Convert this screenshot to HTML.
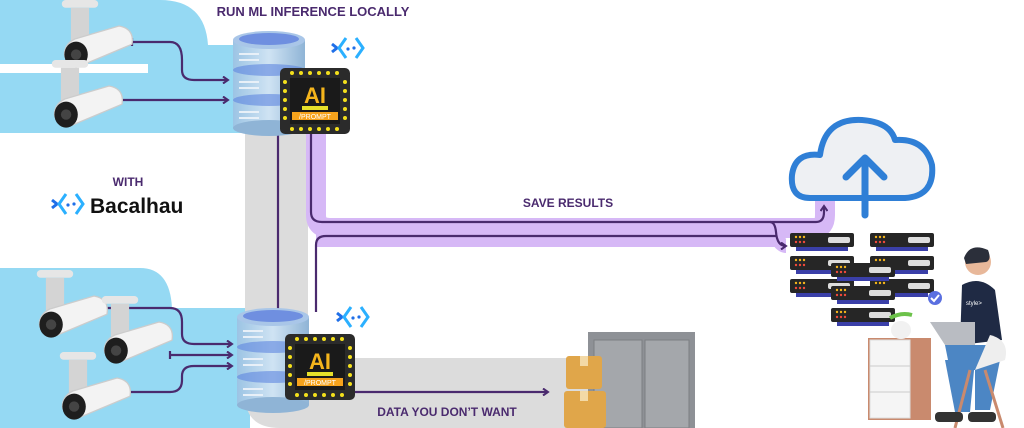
<!DOCTYPE html>
<html><head><meta charset="utf-8"><style>
html,body{margin:0;padding:0;background:#fff;}
svg{display:block;}
text{font-family:"Liberation Sans",sans-serif;}
</style></head><body>
<svg width="1024" height="428" viewBox="0 0 1024 428" xmlns="http://www.w3.org/2000/svg">
<defs>
<linearGradient id="cyl" x1="0" x2="1"><stop offset="0" stop-color="#9cc4e4"/><stop offset="0.5" stop-color="#cfe3f3"/><stop offset="1" stop-color="#8fb4d6"/></linearGradient>
<marker id="ar" markerWidth="8" markerHeight="8" refX="6" refY="4" orient="auto" markerUnits="userSpaceOnUse"><path d="M1,0.5 L6,4 L1,7.5" fill="none" stroke="#4a2a6e" stroke-width="2"/></marker>
<g id="cam">
 <rect x="-14" y="0" width="28" height="6" rx="3" fill="#e6e6e6"/>
 <rect x="-7" y="6" width="14" height="30" fill="#d4d4d4"/>
 <path d="M-4,30 L30,20 Q42,22 40,34 L2,50 Q-10,52 -12,42 Q-12,34 -4,30Z" fill="#f3f3f3" stroke="#ccc"/>
 <ellipse cx="-3" cy="42" rx="9" ry="10" fill="#1e1e1e"/>
 <circle cx="-3" cy="42" r="4" fill="#444"/>
</g>
<g id="srv">
 <rect x="0" y="10" width="72" height="88" fill="url(#cyl)"/>
 <ellipse cx="36" cy="98" rx="36" ry="8" fill="#8fb4d6"/>
 <ellipse cx="36" cy="40" rx="36" ry="6" fill="#5d86e0" opacity=".6"/>
 <ellipse cx="36" cy="70" rx="36" ry="6" fill="#5d86e0" opacity=".6"/>
 <ellipse cx="36" cy="10" rx="36" ry="9" fill="#a9c6e8"/>
 <ellipse cx="36" cy="9" rx="30" ry="6" fill="#6f8fe0"/>
 <g stroke="#e8f0f8" stroke-width="2"><line x1="6" y1="24" x2="26" y2="24"/><line x1="6" y1="30" x2="26" y2="30"/><line x1="6" y1="52" x2="26" y2="52"/><line x1="6" y1="58" x2="26" y2="58"/><line x1="6" y1="82" x2="26" y2="82"/><line x1="6" y1="88" x2="26" y2="88"/></g>
</g>
<g id="chip">
 <rect x="0" y="0" width="70" height="66" rx="5" fill="#2b2b2b"/>
 <g fill="#f4e01c"><circle cx="12" cy="5" r="2"/><circle cx="21" cy="5" r="2"/><circle cx="30" cy="5" r="2"/><circle cx="39" cy="5" r="2"/><circle cx="48" cy="5" r="2"/><circle cx="57" cy="5" r="2"/>
 <circle cx="12" cy="61" r="2"/><circle cx="21" cy="61" r="2"/><circle cx="30" cy="61" r="2"/><circle cx="39" cy="61" r="2"/><circle cx="48" cy="61" r="2"/><circle cx="57" cy="61" r="2"/>
 <circle cx="5" cy="14" r="2"/><circle cx="5" cy="23" r="2"/><circle cx="5" cy="32" r="2"/><circle cx="5" cy="41" r="2"/><circle cx="5" cy="50" r="2"/>
 <circle cx="65" cy="14" r="2"/><circle cx="65" cy="23" r="2"/><circle cx="65" cy="32" r="2"/><circle cx="65" cy="41" r="2"/><circle cx="65" cy="50" r="2"/></g>
 <rect x="10" y="10" width="50" height="46" fill="#1a1a1a"/>
 <text x="35" y="35" text-anchor="middle" font-size="22" font-weight="bold" fill="#f5b51c">AI</text>
 <rect x="22" y="38" width="26" height="4" fill="#e6e02a"/>
 <rect x="12" y="44" width="46" height="8" fill="#f5a21c"/>
 <text x="35" y="51" text-anchor="middle" font-size="7" fill="#fff">/PROMPT</text>
</g>
<g id="bl">
 <path d="M0,6 L5,10 L0,14" fill="none" stroke="#1f6fe8" stroke-width="3"/>
 <path d="M14,0 L7,10 L14,20" fill="none" stroke="#2bb0ff" stroke-width="3"/>
 <path d="M24,0 L31,10 L24,20" fill="none" stroke="#2bb0ff" stroke-width="3"/>
 <circle cx="16" cy="11" r="1.6" fill="#1f6fe8"/><circle cx="22" cy="10" r="1.6" fill="#1f6fe8"/>
</g>
<g id="rack">
 <rect x="0" y="0" width="64" height="14" rx="2" fill="#262626"/>
 <rect x="6" y="14" width="52" height="4" fill="#3a3fa8"/>
 <rect x="38" y="4" width="22" height="6" rx="2" fill="#ddd"/>
 <g fill="#f5b51c"><circle cx="6" cy="4" r="1.2"/><circle cx="10" cy="4" r="1.2"/><circle cx="14" cy="4" r="1.2"/></g>
 <g fill="#f04a3a"><circle cx="6" cy="9" r="1.2"/><circle cx="10" cy="9" r="1.2"/><circle cx="14" cy="9" r="1.2"/></g>
</g>
</defs>

<path d="M0,0 L160,0 Q205,0 208,45 L250,45 L250,133 L0,133 Z" fill="#95d9f3"/>
<rect x="0" y="64" width="148" height="9" fill="#fff"/>
<path d="M0,268 L140,268 Q170,268 172,308 L250,308 L250,428 L0,428 Z" fill="#95d9f3"/>

<path d="M245,133 L308,133 L308,358 L600,358 L600,428 L280,428 Q245,428 245,395 Z" fill="#dcdcdc"/>

<path d="M316,130 L316,215 Q316,228 330,228 L815,228 Q825,228 825,215 L825,200" fill="none" stroke="#d6b8f6" stroke-width="20"/>
<path d="M316,240 L778,240 Q782,246 786,246" fill="none" stroke="#d6b8f6" stroke-width="14"/>
<g fill="none" stroke="#4a2a6e" stroke-width="2.2">
 <path d="M311,134 L311,212 Q311,222 322,222 L816,222 Q824,222 824,212 L824,206" marker-end="url(#ar)"/>
 <path d="M770,222 Q775,222 776,232 Q777,246 786,246" marker-end="url(#ar)"/>
 <path d="M316,312 L316,245 Q316,236 326,236 L776,236"/>
 <line x1="278" y1="128" x2="278" y2="312"/>
 <path d="M132,38 L132,46 M132,42 L170,42 Q182,42 182,60 L182,70 Q182,80 194,80 L228,80" marker-end="url(#ar)"/>
 <path d="M97,96 L97,104 M97,100 L228,100" marker-end="url(#ar)"/>
 <path d="M94,304 L94,312 M94,308 L170,308 Q182,308 182,322 L182,334 Q182,344 194,344 L232,344" marker-end="url(#ar)"/>
 <path d="M170,351 L170,359 M170,355 L232,355" marker-end="url(#ar)"/>
 <path d="M128,388 L128,396 M128,392 L170,392 Q182,392 182,380 L182,376 Q182,366 194,366 L232,366" marker-end="url(#ar)"/>
 <path d="M350,392 L548,392" marker-end="url(#ar)"/>
</g>

<use href="#cam" transform="translate(80,0) scale(1.3)"/>
<use href="#cam" transform="translate(70,60) scale(1.3)"/>
<use href="#cam" transform="translate(55,270) scale(1.3)"/>
<use href="#cam" transform="translate(120,296) scale(1.3)"/>
<use href="#cam" transform="translate(78,352) scale(1.3)"/>

<use href="#srv" x="233" y="30"/>
<use href="#chip" x="280" y="68"/>
<use href="#srv" x="237" y="307"/>
<use href="#chip" x="285" y="334"/>
<use href="#bl" x="332" y="38"/>
<use href="#bl" x="337" y="307"/>

<text x="313" y="16" text-anchor="middle" font-size="13" font-weight="bold" fill="#4a2a6e">RUN ML INFERENCE LOCALLY</text>
<text x="128" y="186" text-anchor="middle" font-size="12" font-weight="bold" fill="#4a2a6e">WITH</text>
<use href="#bl" x="52" y="194"/>
<text x="90" y="213" font-size="21" font-weight="bold" fill="#111">Bacalhau</text>
<text x="568" y="207" text-anchor="middle" font-size="12" font-weight="bold" fill="#4a2a6e">SAVE RESULTS</text>
<text x="447" y="416" text-anchor="middle" font-size="12" font-weight="bold" fill="#4a2a6e">DATA YOU DON’T WANT</text>

<rect x="588" y="332" width="107" height="96" fill="#8e9196"/>
<rect x="594" y="340" width="48" height="88" fill="#a4a7ab" stroke="#7c7f83"/>
<rect x="645" y="340" width="44" height="88" fill="#a4a7ab" stroke="#7c7f83"/>
<rect x="566" y="356" width="36" height="33" rx="3" fill="#e0a64a"/>
<rect x="564" y="391" width="42" height="37" rx="3" fill="#e0a64a"/>
<rect x="580" y="356" width="8" height="10" fill="#f3d9a6"/>
<rect x="580" y="391" width="8" height="10" fill="#f3d9a6"/>

<path d="M810,198 Q790,198 792,175 Q795,152 820,155 Q825,118 862,120 Q890,122 895,140 Q925,138 932,165 Q935,196 905,198 Z" fill="#eef0f3" stroke="#2f7fd6" stroke-width="6" stroke-linejoin="round"/>
<path d="M865,215 L865,158 M846,177 L865,158 L884,177" fill="none" stroke="#2f7fd6" stroke-width="7" stroke-linecap="round" stroke-linejoin="round"/>

<use href="#rack" x="790" y="233"/><use href="#rack" x="790" y="256"/><use href="#rack" x="790" y="279"/>
<use href="#rack" x="870" y="233"/><use href="#rack" x="870" y="256"/><use href="#rack" x="870" y="279"/>
<use href="#rack" x="831" y="263"/><use href="#rack" x="831" y="286"/><use href="#rack" x="831" y="308"/>
<circle cx="935" cy="298" r="7" fill="#5a6fe0"/>
<path d="M931,298 L934,301 L939,295" fill="none" stroke="#fff" stroke-width="2"/>

<rect x="868" y="338" width="63" height="82" fill="#c98a6e"/>
<rect x="870" y="340" width="40" height="78" fill="#f5f5f5" stroke="#ddd"/>
<line x1="870" y1="366" x2="910" y2="366" stroke="#ccc"/><line x1="870" y1="392" x2="910" y2="392" stroke="#ccc"/>
<ellipse cx="901" cy="330" rx="10" ry="9" fill="#f1f1f1"/>
<path d="M890,318 Q901,312 912,315" stroke="#6cc24a" stroke-width="4" fill="none"/>
<path d="M962,285 Q980,275 995,290 L1002,340 L960,345 Z" fill="#1f2a44"/>
<text x="966" y="305" font-size="6" fill="#fff">style&gt;</text>
<circle cx="978" cy="262" r="13" fill="#e8b89a"/>
<path d="M964,258 Q970,242 988,250 Q992,260 986,262 L966,264 Z" fill="#2b2f3a"/>
<path d="M930,322 L975,322 L975,345 L945,345 Z" fill="#b9bcc2"/>
<path d="M945,345 L990,345 L1000,360 L990,410 L975,410 L975,370 L950,370 Z" fill="#4c86c4"/>
<path d="M945,360 L975,360 L970,412 L955,412 Z" fill="#4c86c4"/>
<path d="M990,335 Q1010,340 1005,360 L975,370 Z" fill="#eeeeee"/>
<path d="M985,370 L1003,428 M970,370 L955,428" stroke="#c98a6e" stroke-width="3"/>
<rect x="935" y="412" width="28" height="10" rx="4" fill="#333"/>
<rect x="968" y="412" width="28" height="10" rx="4" fill="#333"/>
</svg>
</body></html>
